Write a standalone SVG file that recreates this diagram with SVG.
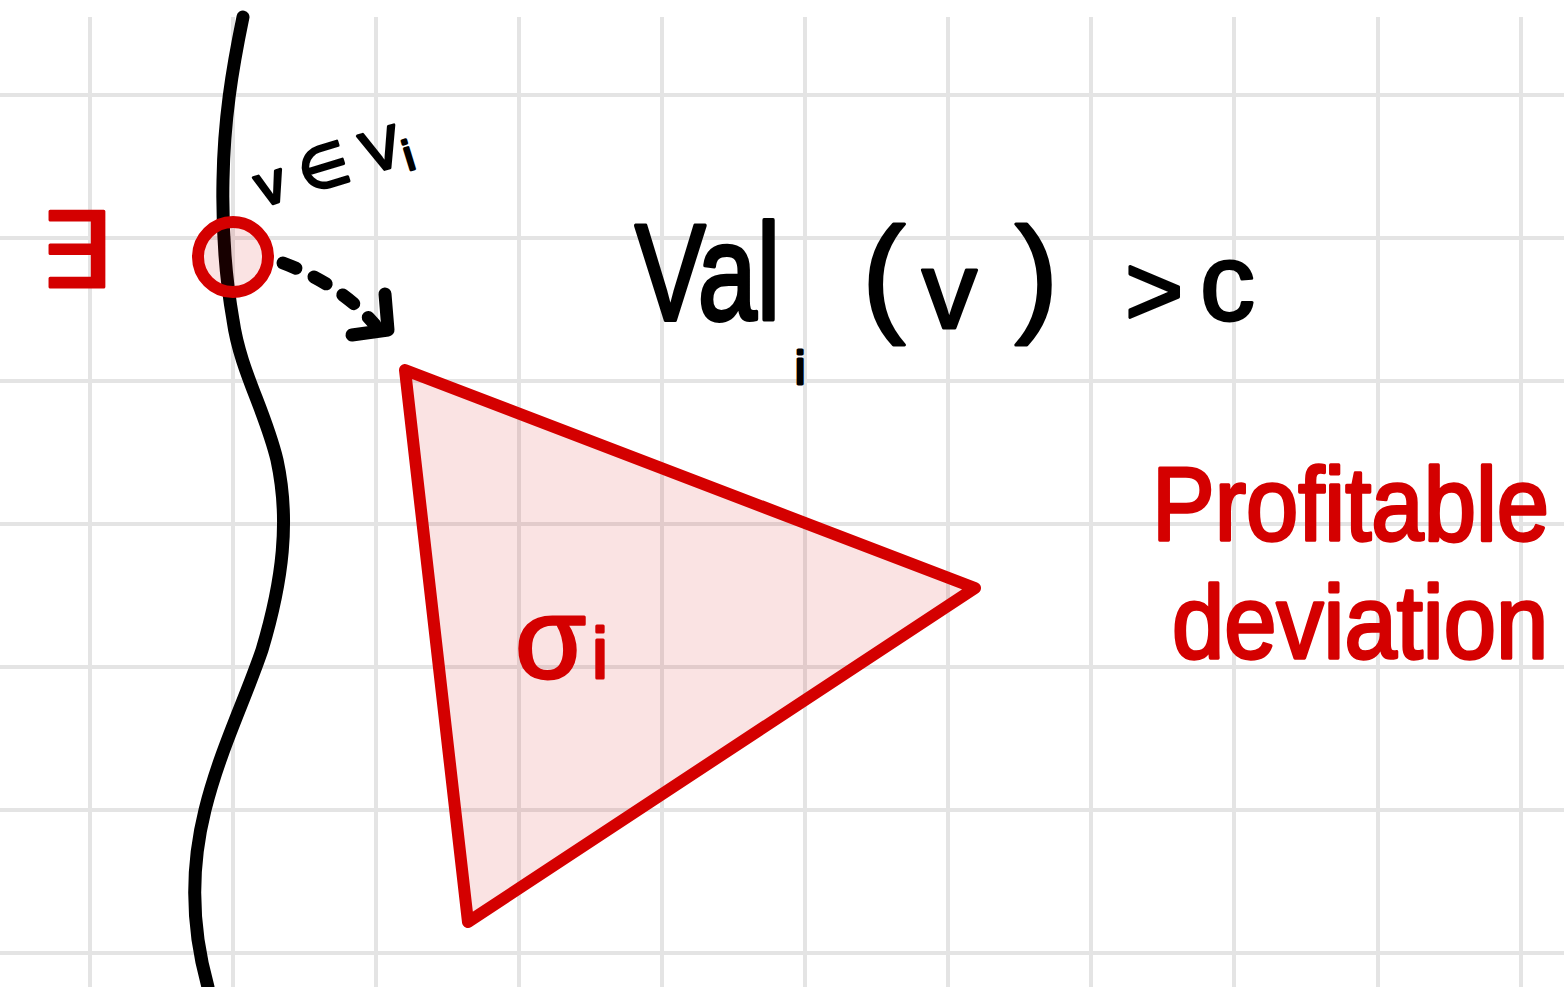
<svg xmlns="http://www.w3.org/2000/svg" width="1564" height="987" viewBox="0 0 1564 987">
<defs>
<style>
.grid line{stroke:#e4e4e4;stroke-width:4}
.red{fill:#d40000;stroke:#d40000;stroke-width:3;stroke-linejoin:round;font-family:"Liberation Sans","DejaVu Sans",sans-serif}
.blk{fill:#000;stroke:#000;stroke-width:3;stroke-linejoin:round;font-family:"Liberation Sans","DejaVu Sans",sans-serif}
.ink{fill:none;stroke:#000;stroke-width:13;stroke-linecap:round;stroke-linejoin:round}
.redink{stroke:#d40000;stroke-width:12;fill:#d40000;fill-opacity:0.11;stroke-linejoin:round}
</style>
</defs>
<rect width="1564" height="987" fill="#fff"/>
<g class="grid">
<line x1="90" y1="17" x2="90" y2="987"/>
<line x1="233" y1="17" x2="233" y2="987"/>
<line x1="376" y1="17" x2="376" y2="987"/>
<line x1="519" y1="17" x2="519" y2="987"/>
<line x1="662" y1="17" x2="662" y2="987"/>
<line x1="805" y1="17" x2="805" y2="987"/>
<line x1="948" y1="17" x2="948" y2="987"/>
<line x1="1091" y1="17" x2="1091" y2="987"/>
<line x1="1234" y1="17" x2="1234" y2="987"/>
<line x1="1378" y1="17" x2="1378" y2="987"/>
<line x1="1521" y1="17" x2="1521" y2="987"/>
<line x1="0" y1="95" x2="1564" y2="95"/>
<line x1="0" y1="238" x2="1564" y2="238"/>
<line x1="0" y1="381" x2="1564" y2="381"/>
<line x1="0" y1="524" x2="1564" y2="524"/>
<line x1="0" y1="667" x2="1564" y2="667"/>
<line x1="0" y1="810" x2="1564" y2="810"/>
<line x1="0" y1="953" x2="1564" y2="953"/>
</g>
<g id="boundary">
<path class="ink" d="M243,17 C232,70 224,120 223,180 C222,230 226,280 233,320 C240,370 265,410 277,460 C290,520 283,580 262,650 C245,700 220,750 205,810 C190,870 192,930 208,987"/>
</g>
<g id="point">
<circle cx="233" cy="257" r="35" class="redink"/>
<text class="red" x="75" y="287" font-size="104" text-anchor="middle" textLength="72" lengthAdjust="spacingAndGlyphs">∃</text>
<text class="blk" x="262" y="207" font-size="58" transform="rotate(-17 262 207)">v ∈ V<tspan font-size="42" dy="8">i</tspan></text>
</g>
<g id="strategy">
<polygon points="405,370 975,588 468,922" class="redink"/>
<text class="red" x="515" y="678" font-size="115">σ<tspan font-size="72" dx="6">i</tspan></text>
</g>
<g id="condition">
<text class="blk" transform="translate(635,320) scale(1,1.3)" x="0" y="0" font-size="106">Val</text>
<text class="blk" x="795" y="384" font-size="46">i</text>
<text class="blk" x="862" y="318" font-size="130">(</text>
<text class="blk" x="922" y="328" font-size="110">v</text>
<text class="blk" x="1015" y="318" font-size="130">)</text>
<text class="blk" x="1125" y="325" font-size="100">&gt;</text>
<text class="blk" x="1200" y="320" font-size="110">c</text>
</g>
<g id="label">
<text class="red" transform="translate(1152,540) scale(1,1.1)" x="0" y="0" font-size="94">Profitable</text>
<text class="red" transform="translate(1172,658) scale(1,1.1)" x="0" y="0" font-size="94">deviation</text>
</g>
<g id="connectors">
<path d="M283,263 C315,275 350,295 375,325" fill="none" stroke="#000" stroke-width="13" stroke-linecap="round" stroke-dasharray="14 20"/>
<path class="ink" d="M352,335 L388,330 L385,294"/>
</g>
</svg>
